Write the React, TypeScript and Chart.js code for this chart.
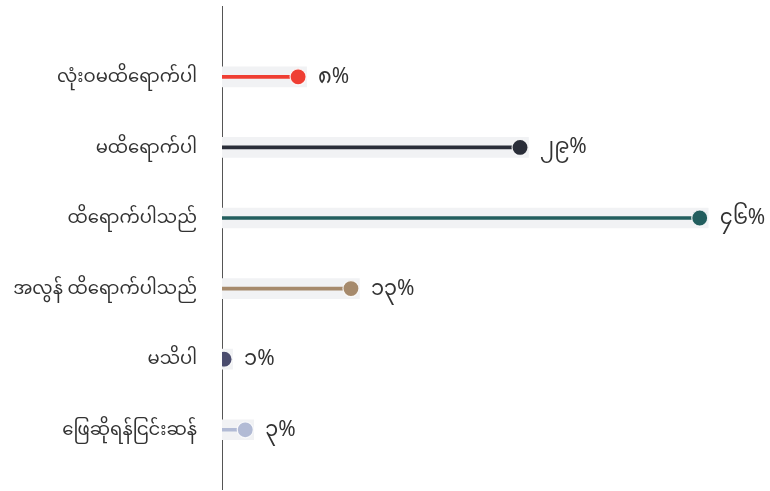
import React, { useEffect, useRef } from "react";
import { Chart, registerables } from "chart.js";

Chart.register(...registerables);

const categories = [
  "လုံးဝမထိရောက်ပါ",
  "မထိရောက်ပါ",
  "ထိရောက်ပါသည်",
  "အလွန် ထိရောက်ပါသည်",
  "မသိပါ",
  "ဖြေဆိုရန်ငြင်းဆန်",
];
const values = [8, 29, 46, 13, 1, 3];
const colors = ["#ef3e33", "#2a2e39", "#225e5e", "#a68a6c", "#4a4c6e", "#b2bbd5"];
const trackColor = "#f1f2f4";

const myDigits = ["၀", "၁", "၂", "၃", "၄", "၅", "၆", "၇", "၈", "၉"];
const toMyanmar = (n: number) =>
  String(n)
    .split("")
    .map((c) => (c >= "0" && c <= "9" ? myDigits[Number(c)] : c))
    .join("");

const FONT = "'Noto Sans', 'Noto Sans Myanmar', sans-serif";

const valueLabels = {
  id: "valueLabels",
  afterDatasetsDraw(chart: any) {
    const meta = chart.getDatasetMeta(2);
    const ctx = chart.ctx;
    ctx.save();
    ctx.font = `21px ${FONT}`;
    ctx.fillStyle = "#333333";
    ctx.textAlign = "left";
    ctx.textBaseline = "middle";
    meta.data.forEach((pt: any, i: number) => {
      ctx.fillText(toMyanmar(values[i]) + "%", pt.x + 20, pt.y);
    });
    ctx.restore();
  },
};

export default function App() {
  const ref = useRef<HTMLCanvasElement | null>(null);
  useEffect(() => {
    if (!ref.current) return;
    const chart = new Chart(ref.current, {
      type: "bar",
      data: {
        datasets: [
          {
            type: "bar",
            data: values.map((v, i) => ({ x: v + 0.8, y: i })),
            backgroundColor: trackColor,
            barThickness: 20,
            grouped: false,
            order: 3,
          } as any,
          {
            type: "bar",
            data: values.map((v, i) => ({ x: v, y: i })),
            backgroundColor: colors,
            barThickness: 3,
            grouped: false,
            order: 2,
          } as any,
          {
            type: "line",
            indexAxis: "y",
            data: values.map((v, i) => ({ x: v, y: i })),
            showLine: false,
            clip: 0,
            pointRadius: 8,
            pointHoverRadius: 8,
            pointBackgroundColor: colors,
            pointBorderColor: "rgba(255,255,255,0.85)",
            pointBorderWidth: 1.2,
            order: 1,
          } as any,
        ],
      },
      options: {
        indexAxis: "y",
        animation: false,
        responsive: false,
        maintainAspectRatio: false,
        layout: { padding: { top: 0, right: 28, bottom: 0, left: 0 } },
        plugins: { legend: { display: false }, tooltip: { enabled: false } },
        scales: {
          x: {
            type: "linear",
            min: 0.8,
            max: 50,
            display: false,
          },
          y: {
            type: "linear",
            min: -1,
            max: 5.85,
            reverse: true,
            offset: false,
            afterBuildTicks: (axis: any) => {
              axis.ticks = categories.map((_, i) => ({ value: i }));
            },
            afterFit: (axis: any) => {
              axis.width = 222;
              axis.paddingTop = 0;
              axis.paddingBottom = 0;
            },
            grid: { display: false, drawTicks: false },
            border: { display: true, color: "#555555", width: 1 },
            ticks: {
              padding: 25,
              color: "#333333",
              font: { size: 18, family: FONT },
              callback: (v: any) => categories[v as number] ?? "",
            },
          },
        },
      } as any,
      plugins: [valueLabels],
    });
    return () => chart.destroy();
  }, []);
  return (
    <div style={{ position: "fixed", left: 0, top: 0, width: 770, height: 491, overflow: "hidden", background: "#ffffff" }}>
      <canvas
        ref={ref}
        width={770}
        height={502}
        style={{ position: "absolute", left: 0, top: -3, width: 770, height: 502 }}
      />
    </div>
  );
}
